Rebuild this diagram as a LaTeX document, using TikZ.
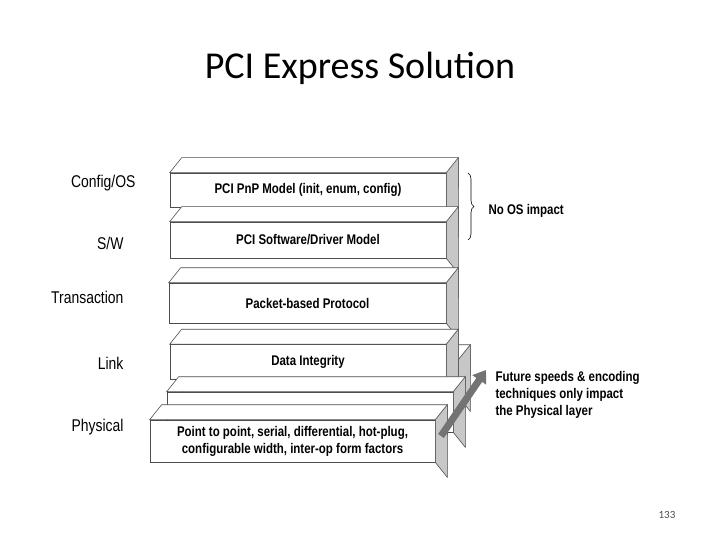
\documentclass[tikz,border=0pt]{standalone}
\usepackage{fontspec}
\setmainfont{Liberation Sans}
\newfontfamily\nar[FakeStretch=0.82]{Liberation Sans}
\newfontfamily\calfont{Carlito}
\usetikzlibrary{arrows.meta,decorations.pathreplacing}
\tikzset{
  front/.style={draw=black!70,fill=white,line width=0.6pt,inner sep=0pt,font=\nar\bfseries\fontsize{14}{17}\selectfont,align=center},
  lbl/.style={anchor=east,font=\nar\fontsize{17}{20}\selectfont},
}
\newcommand\faces[1]{%
  \draw[black!70,fill=white,line width=0.6pt] (#1.north west)--++(12,-15)-| ([xshift=12,yshift=-15]#1.north east)--(#1.north east)--cycle;
  \draw[black!70,fill=black!22,line width=0.6pt] (#1.north east)--++(12,-15)--([xshift=12,yshift=-15]#1.south east)--(#1.south east)--cycle;}
\begin{document}
\begin{tikzpicture}[x=1pt,y=-1pt]
\useasboundingbox (0,0) rectangle (720,540);
\node[font=\calfont\fontsize{38}{44}\selectfont] (title) at (360,68) {PCI Express Solution};
\node[lbl] (l1) at (139,183) {Config/OS};
\node[lbl] (l2) at (127,243) {S/W};
\node[lbl] (l3) at (127,297) {Transaction};
\node[lbl] (l4) at (127,363) {Link};
\node[lbl] (l5) at (127,427) {Physical};
% layers
\node[front,minimum width=276,minimum height=34] (b1) at (308,190) {PCI PnP Model (init, enum, config)};
\faces{b1}
\node[front,minimum width=276,minimum height=36] (b2) at (308,240) {PCI Software/Driver Model};
\faces{b2}
\node[front,minimum width=277,minimum height=40] (b3) at (307.5,303) {Packet-based Protocol};
\faces{b3}
\node[front,minimum width=276,minimum height=36] (b4b) at (320,378) {};
\faces{b4b}
\node[front,minimum width=276,minimum height=35] (b4) at (308,362) {Data Integrity};
\faces{b4}
\node[front,minimum width=286,minimum height=40] (b5) at (310,412) {};
\faces{b5}
\node[front,minimum width=285,minimum height=42] (b6) at (292.5,441) {Point to point, serial, differential, hot-plug,\\configurable width, inter-op form factors};
\faces{b6}
\coordinate (a1) at (441,436);
\coordinate (a2) at (486,370);
\draw[black!55,line width=7pt,-{Triangle[length=12pt,width=16pt]}] (a1)--(a2);
\coordinate (br1) at (468,173);
\coordinate (br2) at (468,240);
\draw[decorate,decoration={brace,amplitude=6pt},line width=0.6pt] (br1)--(br2);
\node[anchor=west,font=\nar\bfseries\fontsize{14}{17}\selectfont] (noos) at (485,211) {No OS impact};
\node[anchor=north west,align=left,font=\nar\bfseries\fontsize{14}{17}\selectfont] (fut) at (492,368) {Future speeds \& encoding\\techniques only impact\\the Physical layer};
\node[font=\calfont\fontsize{11}{13}\selectfont,text=black!70] (pg) at (667,515) {133};
\end{tikzpicture}
\end{document}
